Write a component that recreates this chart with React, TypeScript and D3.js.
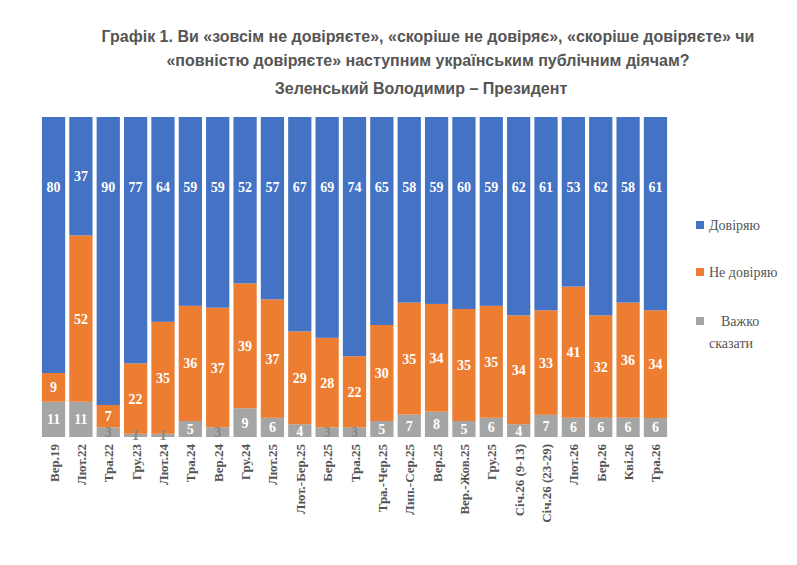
import React, { useEffect, useRef } from "react";
import * as d3 from "d3";

const categories = ["Вер.19", "Лют.22", "Тра.22", "Гру.23", "Лют.24", "Тра.24", "Вер.24", "Гру.24", "Лют.25", "Лют.-Бер.25", "Бер.25", "Тра.25", "Тра.-Чер.25", "Лип.-Сер.25", "Вер.25", "Вер.-Жов.25", "Гру.25", "Січ.26 (9-13)", "Січ.26 (23-29)", "Лют.26", "Бер.26", "Кві.26", "Тра.26"];
const trust = [80, 37, 90, 77, 64, 59, 59, 52, 57, 67, 69, 74, 65, 58, 59, 60, 59, 62, 61, 53, 62, 58, 61];
const distrust = [9, 52, 7, 22, 35, 36, 37, 39, 37, 29, 28, 22, 30, 35, 34, 35, 35, 34, 33, 41, 32, 36, 34];
const hard = [11, 11, 3, 1, 1, 5, 3, 9, 6, 4, 3, 3, 5, 7, 8, 5, 6, 4, 7, 6, 6, 6, 6];
const seriesNames = ["Довіряю", "Не довіряю", "Важко сказати"];
const colors = ["#4472C4", "#ED7D31", "#A5A5A5"];

const App: React.FC = () => {
  const svgRef = useRef<SVGSVGElement | null>(null);

  useEffect(() => {
    if (!svgRef.current) return;
    const svg = d3.select(svgRef.current);
    svg.selectAll("*").remove();

    const rows = categories.map((c, i) => ({ cat: c, hard: hard[i], distrust: distrust[i], trust: trust[i] }));
    const keys = ["hard", "distrust", "trust"];
    const stacked = d3.stack<any>().keys(keys).offset(d3.stackOffsetExpand)(rows);
    const keyColor: Record<string, string> = { trust: colors[0], distrust: colors[1], hard: colors[2] };

    const x = d3.scaleBand().domain(categories).range([32, 661]).paddingInner(0.15).paddingOuter(0.07);
    const y = d3.scaleLinear().domain([0, 1]).range([429, 109]);
    const sans = "Liberation Sans, Arial, sans-serif";
    const serif = "Liberation Serif, Times New Roman, serif";

    svg.append("g").selectAll("text")
      .data(["Графік 1. Ви «зовсім не довіряєте», «скоріше не довіряє», «скоріше довіряєте» чи", "«повністю довіряєте» наступним українським публічним діячам?"])
      .enter().append("text")
      .attr("x", 420).attr("y", (_, i) => 34 + i * 24)
      .attr("text-anchor", "middle")
      .style("font-family", sans)
      .style("font-weight", "bold").style("font-size", "16px").style("fill", "#555")
      .text(d => d);
    svg.append("text").attr("x", 413).attr("y", 86).attr("text-anchor", "middle")
      .style("font-family", sans)
      .style("font-weight", "bold").style("font-size", "16px").style("fill", "#555")
      .text("Зеленський Володимир – Президент");

    const layers = svg.append("g").selectAll("g").data(stacked).enter().append("g")
      .attr("fill", d => keyColor[d.key]);
    layers.selectAll("rect").data(d => d).enter().append("rect")
      .attr("x", d => x(d.data.cat)!)
      .attr("width", x.bandwidth())
      .attr("y", d => y(d[1]))
      .attr("height", d => y(d[0]) - y(d[1]));

    stacked.forEach(layer => {
      svg.append("g").selectAll("text").data(layer).enter().append("text")
        .attr("x", d => x(d.data.cat)! + x.bandwidth() / 2)
        .attr("y", d => {
          const c = (y(d[0]) + y(d[1])) / 2;
          return layer.key === "trust" ? Math.min(c, y(d[1]) + 70) + 5 : c + 5;
        })
        .attr("text-anchor", "middle")
        .style("font-family", serif)
        .style("font-weight", "bold").style("font-size", "14px")
        .style("fill", d => (layer.key === "hard" && (d.data as any).hard < 4) ? "#888" : "#fff")
        .text(d => (d.data as any)[layer.key]);
    });

    svg.append("g").selectAll("text").data(categories).enter().append("text")
      .attr("transform", d => `translate(${x(d)! + x.bandwidth() / 2 + 5},436) rotate(-90)`)
      .attr("text-anchor", "end")
      .style("font-family", serif)
      .style("font-weight", "bold").style("font-size", "13px").style("fill", "#555")
      .text(d => d);

    const legendY = [218, 265, 314];
    seriesNames.forEach((name, i) => {
      svg.append("rect").attr("x", 688).attr("y", legendY[i] - 5).attr("width", 8).attr("height", 8).attr("fill", colors[i]);
      const t = svg.append("text").attr("x", 701).attr("y", legendY[i] + 4)
        .style("font-family", serif)
        .style("font-size", "14px").style("fill", "#555");
      if (i === 2) {
        t.append("tspan").attr("x", 713).text("Важко");
        t.append("tspan").attr("x", 701).attr("dy", 22).text("сказати");
      } else t.text(name);
    });
  }, []);

  return <svg ref={svgRef} width={781} height={549} style={{ display: "block" }} />;
};

export default App;
